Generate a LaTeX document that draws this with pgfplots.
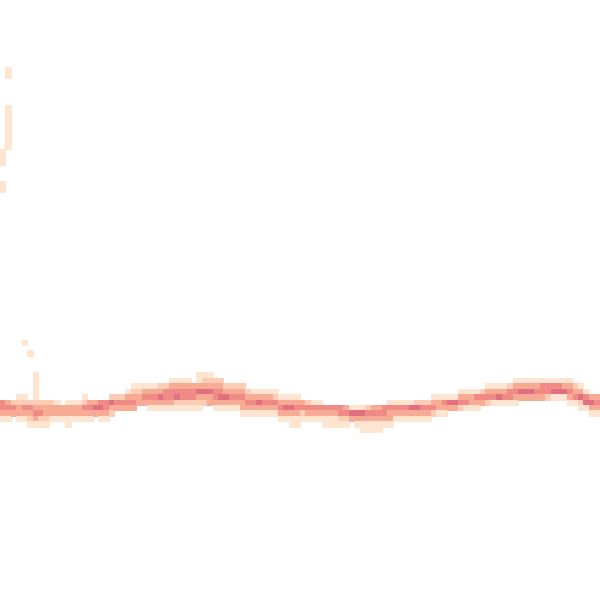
\documentclass[border=0pt]{standalone}
\usepackage{pgfplots}
\pgfplotsset{compat=1.18}
\begin{document}
\begin{tikzpicture}
\begin{axis}[name=ax, hide axis, scale only axis,
  x=5pt, y=5pt, y dir=reverse,
  xmin=-0.5, xmax=109.5, ymin=-0.78, ymax=109.22,
  clip marker paths=true,
  colormap={peach}{rgb255=(254,229,210) rgb255=(252,205,180) rgb255=(247,170,148) rgb255=(239,138,135) rgb255=(224,112,128)},
  point meta min=1, point meta max=5]
\addplot[scatter, only marks, mark=square*, mark size=2.5pt, scatter src=explicit,
  scatter/use mapped color={draw=mapped color, fill=mapped color, line width=0.3pt}]
 table[row sep=\\, meta=m]{
x y m\\
0 27 1\\ 0 28 1\\ 0 29 1\\ 0 33 1\\ 0 34 1\\ 0 73 4\\ 0 74 4\\ 0 75 3\\ 0 76 1\\
1 12 1\\ 1 13 1\\ 1 19 1\\ 1 20 1\\ 1 21 1\\ 1 22 1\\ 1 23 1\\ 1 24 1\\ 1 25 1\\ 1 26 1\\ 1 73 3\\ 1 74 4\\ 1 75 3\\ 1 76 1\\
2 73 2\\ 2 74 4\\ 2 75 3\\
3 72 1\\ 3 73 2\\ 3 74 3\\ 3 75 3\\ 3 76 1\\
4 62 1\\ 4 72 1\\ 4 73 2\\ 4 74 4\\ 4 75 3\\ 4 76 1\\
5 64 1\\ 5 73 2\\ 5 74 4\\ 5 75 3\\ 5 76 2\\ 5 77 1\\
6 68 1\\ 6 69 1\\ 6 70 1\\ 6 71 1\\ 6 72 1\\ 6 73 2\\ 6 74 3\\ 6 75 4\\ 6 76 3\\ 6 77 1\\
7 73 2\\ 7 74 3\\ 7 75 4\\ 7 76 2\\ 7 77 1\\
8 73 2\\ 8 74 3\\ 8 75 3\\ 8 76 2\\ 8 77 1\\
9 73 2\\ 9 74 3\\ 9 75 3\\ 9 76 1\\
10 73 1\\ 10 74 3\\ 10 75 3\\ 10 76 1\\
11 74 3\\ 11 75 3\\ 11 76 1\\
12 73 1\\ 12 74 3\\ 12 75 3\\ 12 76 1\\ 12 77 1\\
13 73 1\\ 13 74 3\\ 13 75 3\\ 13 76 1\\
14 73 1\\ 14 74 3\\ 14 75 3\\ 14 76 1\\
15 72 1\\ 15 73 2\\ 15 74 4\\ 15 75 3\\ 15 76 1\\
16 73 3\\ 16 74 4\\ 16 75 3\\ 16 76 1\\
17 73 3\\ 17 74 5\\ 17 75 3\\
18 73 4\\ 18 74 5\\ 18 75 3\\ 18 76 1\\
19 73 4\\ 19 74 4\\ 19 75 3\\ 19 76 1\\
20 72 2\\ 20 73 5\\ 20 74 3\\ 20 75 2\\
21 72 2\\ 21 73 4\\ 21 74 3\\
22 72 2\\ 22 73 4\\ 22 74 3\\
23 71 1\\ 23 72 3\\ 23 73 4\\ 23 74 3\\
24 70 1\\ 24 71 2\\ 24 72 3\\ 24 73 4\\ 24 74 3\\
25 70 1\\ 25 71 2\\ 25 72 3\\ 25 73 3\\
26 70 1\\ 26 71 3\\ 26 72 4\\ 26 73 3\\
27 70 1\\ 27 71 3\\ 27 72 4\\ 27 73 3\\ 27 74 1\\
28 70 1\\ 28 71 3\\ 28 72 4\\ 28 73 3\\ 28 74 1\\
29 70 2\\ 29 71 3\\ 29 72 5\\ 29 73 3\\ 29 74 1\\
30 70 2\\ 30 71 4\\ 30 72 4\\ 30 73 3\\ 30 74 1\\
31 69 1\\ 31 70 3\\ 31 71 4\\ 31 72 4\\ 31 73 3\\ 31 74 1\\
32 69 1\\ 32 70 3\\ 32 71 4\\ 32 72 5\\ 32 73 2\\ 32 74 1\\
33 69 1\\ 33 70 3\\ 33 71 4\\ 33 72 4\\ 33 73 2\\ 33 74 1\\
34 69 1\\ 34 70 3\\ 34 71 4\\ 34 72 4\\ 34 73 2\\ 34 74 1\\
35 70 3\\ 35 71 4\\ 35 72 4\\ 35 73 2\\ 35 74 1\\
36 68 1\\ 36 69 1\\ 36 70 3\\ 36 71 5\\ 36 72 3\\ 36 73 2\\ 36 74 1\\
37 68 1\\ 37 69 2\\ 37 70 3\\ 37 71 5\\ 37 72 3\\ 37 73 2\\
38 68 1\\ 38 69 2\\ 38 70 3\\ 38 71 5\\ 38 72 3\\ 38 73 3\\
39 69 2\\ 39 70 3\\ 39 71 4\\ 39 72 4\\ 39 73 3\\ 39 74 1\\
40 69 2\\ 40 70 3\\ 40 71 4\\ 40 72 5\\ 40 73 3\\ 40 74 1\\
41 70 2\\ 41 71 3\\ 41 72 5\\ 41 73 3\\ 41 74 1\\
42 70 2\\ 42 71 3\\ 42 72 4\\ 42 73 3\\ 42 74 1\\
43 70 2\\ 43 71 3\\ 43 72 4\\ 43 73 3\\ 43 74 1\\
44 70 2\\ 44 71 3\\ 44 72 4\\ 44 73 3\\ 44 74 3\\ 44 75 1\\
45 71 2\\ 45 72 3\\ 45 73 4\\ 45 74 3\\ 45 75 1\\
46 71 1\\ 46 72 3\\ 46 73 4\\ 46 74 3\\ 46 75 1\\
47 71 1\\ 47 72 3\\ 47 73 5\\ 47 74 3\\ 47 75 1\\
48 71 1\\ 48 72 3\\ 48 73 4\\ 48 74 3\\ 48 75 1\\
49 71 1\\ 49 72 3\\ 49 73 4\\ 49 74 3\\ 49 75 1\\
50 71 1\\ 50 72 2\\ 50 73 4\\ 50 74 3\\ 50 75 1\\
51 72 1\\ 51 73 3\\ 51 74 4\\ 51 75 3\\ 51 76 1\\
52 72 1\\ 52 73 3\\ 52 74 5\\ 52 75 3\\ 52 76 1\\
53 72 1\\ 53 73 3\\ 53 74 5\\ 53 75 3\\ 53 76 1\\ 53 77 1\\
54 72 1\\ 54 73 3\\ 54 74 4\\ 54 75 3\\ 54 76 1\\ 54 77 1\\
55 73 3\\ 55 74 4\\ 55 75 2\\ 55 76 1\\
56 73 2\\ 56 74 4\\ 56 75 3\\ 56 76 1\\
57 73 1\\ 57 74 4\\ 57 75 3\\ 57 76 1\\
58 73 1\\ 58 74 4\\ 58 75 3\\ 58 76 1\\
59 74 4\\ 59 75 3\\ 59 76 1\\ 59 77 1\\
60 74 4\\ 60 75 3\\ 60 76 1\\ 60 77 1\\
61 74 4\\ 61 75 3\\ 61 76 1\\ 61 77 1\\
62 74 4\\ 62 75 4\\ 62 76 2\\ 62 77 1\\
63 74 3\\ 63 75 4\\ 63 76 2\\ 63 77 1\\
64 74 1\\ 64 75 5\\ 64 76 3\\
65 74 1\\ 65 75 5\\ 65 76 3\\ 65 77 1\\
66 74 1\\ 66 75 5\\ 66 76 3\\ 66 77 1\\ 66 78 1\\
67 74 2\\ 67 75 4\\ 67 76 3\\ 67 77 1\\ 67 78 1\\
68 74 3\\ 68 75 4\\ 68 76 3\\ 68 77 1\\ 68 78 1\\
69 74 3\\ 69 75 4\\ 69 76 3\\ 69 77 1\\ 69 78 1\\
70 74 4\\ 70 75 4\\ 70 76 3\\ 70 77 1\\
71 73 1\\ 71 74 4\\ 71 75 3\\ 71 76 3\\ 71 77 1\\
72 73 1\\ 72 74 4\\ 72 75 3\\ 72 76 1\\
73 73 1\\ 73 74 4\\ 73 75 3\\ 73 76 1\\
74 73 1\\ 74 74 4\\ 74 75 3\\ 74 76 1\\
75 73 1\\ 75 74 5\\ 75 75 3\\ 75 76 1\\
76 73 2\\ 76 74 5\\ 76 75 3\\ 76 76 1\\
77 73 2\\ 77 74 4\\ 77 75 3\\ 77 76 1\\
78 73 2\\ 78 74 4\\ 78 75 3\\ 78 76 1\\
79 72 1\\ 79 73 3\\ 79 74 4\\ 79 75 2\\
80 72 1\\ 80 73 3\\ 80 74 3\\ 80 75 1\\
81 72 1\\ 81 73 4\\ 81 74 3\\ 81 75 1\\
82 72 1\\ 82 73 5\\ 82 74 3\\
83 72 1\\ 83 73 5\\ 83 74 3\\
84 71 1\\ 84 72 3\\ 84 73 4\\ 84 74 2\\
85 71 1\\ 85 72 3\\ 85 73 4\\ 85 74 1\\
86 71 1\\ 86 72 3\\ 86 73 3\\ 86 74 1\\
87 71 1\\ 87 72 4\\ 87 73 3\\ 87 74 1\\
88 71 2\\ 88 72 4\\ 88 73 3\\
89 70 1\\ 89 71 3\\ 89 72 4\\ 89 73 2\\
90 70 1\\ 90 71 3\\ 90 72 4\\ 90 73 1\\
91 70 1\\ 91 71 3\\ 91 72 5\\ 91 73 1\\
92 70 1\\ 92 71 3\\ 92 72 4\\ 92 73 1\\
93 70 2\\ 93 71 4\\ 93 72 4\\ 93 73 1\\
94 69 1\\ 94 70 3\\ 94 71 4\\ 94 72 3\\ 94 73 1\\
95 69 1\\ 95 70 3\\ 95 71 5\\ 95 72 3\\
96 69 1\\ 96 70 3\\ 96 71 5\\ 96 72 3\\
97 69 1\\ 97 70 3\\ 97 71 5\\ 97 72 3\\
98 69 1\\ 98 70 3\\ 98 71 4\\ 98 72 3\\
99 69 1\\ 99 70 4\\ 99 71 4\\ 99 72 3\\
100 69 1\\ 100 70 4\\ 100 71 4\\ 100 72 2\\
101 69 1\\ 101 70 4\\ 101 71 5\\ 101 72 1\\
102 69 1\\ 102 70 4\\ 102 71 5\\ 102 72 1\\
103 69 1\\ 103 70 3\\ 103 71 5\\ 103 72 1\\
104 69 1\\ 104 70 3\\ 104 71 4\\ 104 72 3\\ 104 73 1\\
105 70 2\\ 105 71 3\\ 105 72 4\\ 105 73 1\\
106 70 1\\ 106 71 3\\ 106 72 5\\ 106 73 2\\ 106 74 1\\
107 71 1\\ 107 72 4\\ 107 73 5\\ 107 74 1\\
108 72 3\\ 108 73 5\\ 108 74 3\\ 108 75 1\\
109 72 3\\ 109 73 4\\ 109 74 3\\ 109 75 1\\
};
\end{axis}
\pgfresetboundingbox
\path (ax.south west) rectangle (ax.north east);
\end{tikzpicture}
\end{document}
